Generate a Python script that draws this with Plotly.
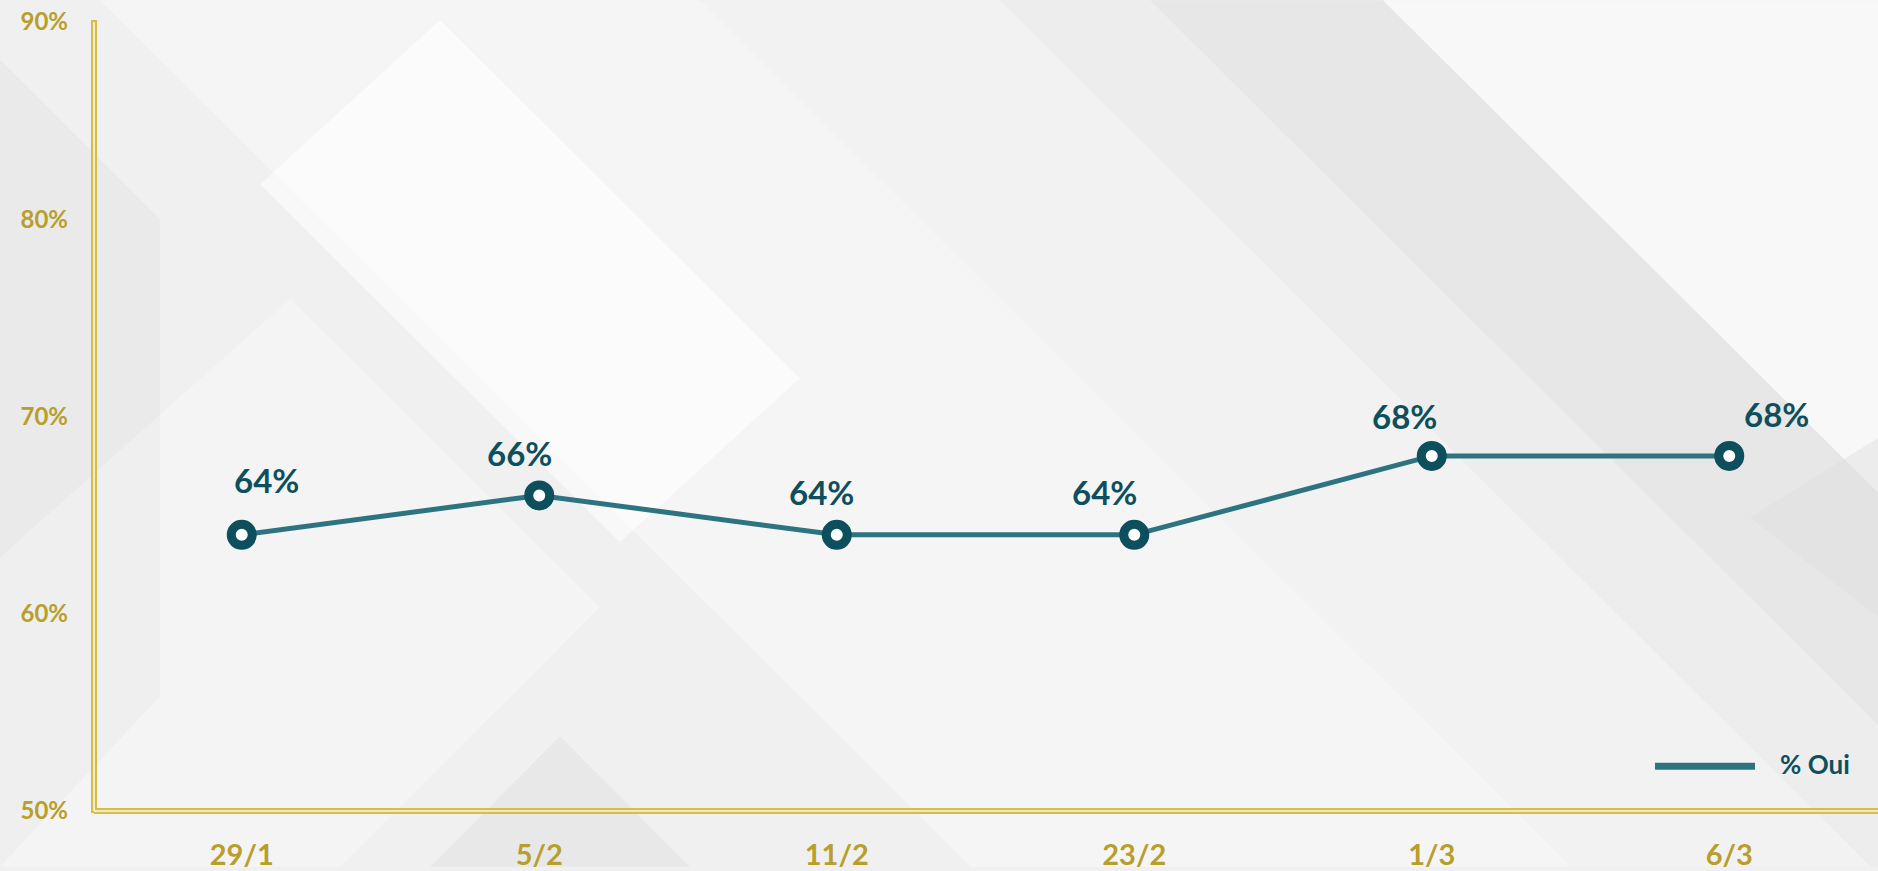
import plotly.graph_objects as go

# ---- data ----
categories = ["29/1", "5/2", "11/2", "23/2", "1/3", "6/3"]
oui_values = [64, 66, 64, 64, 68, 68]
series_name = "% Oui"
y_tickvals = [50, 60, 70, 80, 90]
y_ticktext = ["50%", "60%", "70%", "80%", "90%"]

# label offsets (style only, pixels)
label_dx = [25, -20, -15, -30, -27, 47]
label_dy = [55, 42, 43, 43, 40, 42]

W, H = 1878, 871
ML, MR, MT, MB = 93, 0, 22, 56
PW, PH = W - ML - MR, H - MT - MB

GOLD_TXT = "#B89E2A"
GOLD_LINE = "#D8BD45"
TEAL = "#2E7480"
DARK = "#0D4F5C"
FONT = "Lato"

def px(x):
    return (x - ML) / PW

def py(y):
    return (H - MB - y) / PH

def poly(pts):
    return "M " + " L ".join(f"{px(x):.4f},{py(y):.4f}" for x, y in pts) + " Z"

fig = go.Figure()
fig.add_trace(go.Scatter(
    x=categories, y=oui_values, name=series_name, mode="lines+markers",
    line=dict(color=TEAL, width=5),
    marker=dict(size=21, color="white", line=dict(color=DARK, width=9)),
    showlegend=False, hoverinfo="x+y",
))

shapes = []
# decorative background bands (45 degree diagonals)
bands = [
    ([(100, 0), (700, 0), (1571, 871), (971, 871)], "white", 0.35),
    ([(700, 0), (1000, 0), (1871, 871), (1571, 871)], "white", 0.15),
    ([(260, 185), (440, 20), (800, 380), (620, 545)], "white", 0.55),
    ([(1150, 0), (1383, 0), (2254, 871), (2021, 871)], "#DADADA", 0.4),
    ([(1000, 0), (1150, 0), (2021, 871), (1871, 871)], "#E2E2E2", 0.25),
    ([(1383, 0), (1878, 0), (1878, 495)], "white", 0.5),
    ([(0, 60), (160, 220), (160, 700), (0, 871)], "#E0E0E0", 0.35),
    ([(0, 560), (290, 300), (600, 610), (340, 871), (0, 871)], "white", 0.25),
    ([(430, 871), (560, 740), (690, 871)], "#DDDDDD", 0.4),
    ([(1750, 520), (1878, 440), (1878, 620)], "#DDDDDD", 0.45),
]
for pts, col, op in bands:
    shapes.append(dict(type="path", xref="paper", yref="paper", path=poly(pts),
                       fillcolor=col, opacity=op, line=dict(width=0), layer="below"))

# double axis lines
shapes += [
    dict(type="line", xref="paper", yref="paper", x0=px(94), x1=px(94), y0=py(817), y1=py(20),
         line=dict(color=GOLD_LINE, width=6), layer="above"),
    dict(type="line", xref="paper", yref="paper", x0=px(94), x1=px(W + 5), y0=py(815), y1=py(815),
         line=dict(color=GOLD_LINE, width=6), layer="above"),
    dict(type="line", xref="paper", yref="paper", x0=px(94), x1=px(94), y0=py(815), y1=py(22),
         line=dict(color="#F6F6F6", width=1.6), layer="above"),
    dict(type="line", xref="paper", yref="paper", x0=px(94), x1=px(W + 5), y0=py(815), y1=py(815),
         line=dict(color="#F6F6F6", width=1.6), layer="above"),
]
# legend sample line
shapes.append(dict(type="line", xref="paper", yref="paper", x0=px(1655), x1=px(1755),
                   y0=py(770), y1=py(770), line=dict(color=TEAL, width=7)))

annotations = []
for i, (c, v) in enumerate(zip(categories, oui_values)):
    annotations.append(dict(x=c, y=v, xref="x", yref="y", text=f"<b>{v}%</b>", showarrow=False,
                            xshift=label_dx[i], yshift=label_dy[i],
                            font=dict(family=FONT, size=33, color=DARK)))
annotations.append(dict(x=px(1778), y=py(768), xref="paper", yref="paper", text=f"<b>{series_name}</b>",
                        showarrow=False, xanchor="left", yanchor="middle",
                        font=dict(family=FONT, size=26, color=DARK)))

fig.update_layout(
    width=W, height=H,
    margin=dict(l=ML, r=MR, t=MT, b=MB),
    paper_bgcolor="#F0F0F0", plot_bgcolor="rgba(0,0,0,0)",
    shapes=shapes, annotations=annotations, showlegend=False,
    xaxis=dict(type="category", range=[-0.5, 5.5], showgrid=False, zeroline=False,
               showline=False, ticks="", ticklabelstandoff=24,
               tickvals=categories, ticktext=[f"<b>{c}</b>" for c in categories],
               tickfont=dict(family=FONT, size=29, color=GOLD_TXT)),
    yaxis=dict(range=[50, 90], tickvals=y_tickvals, ticktext=[f"<b>{t}</b>" for t in y_ticktext],
               showgrid=False, zeroline=False, showline=False, ticks="", ticklabelstandoff=24,
               tickfont=dict(family=FONT, size=24, color=GOLD_TXT)),
)

fig.write_html("out.html", config={"displayModeBar": False},
               post_script="document.body.style.margin='0';document.body.style.overflow='hidden';")
